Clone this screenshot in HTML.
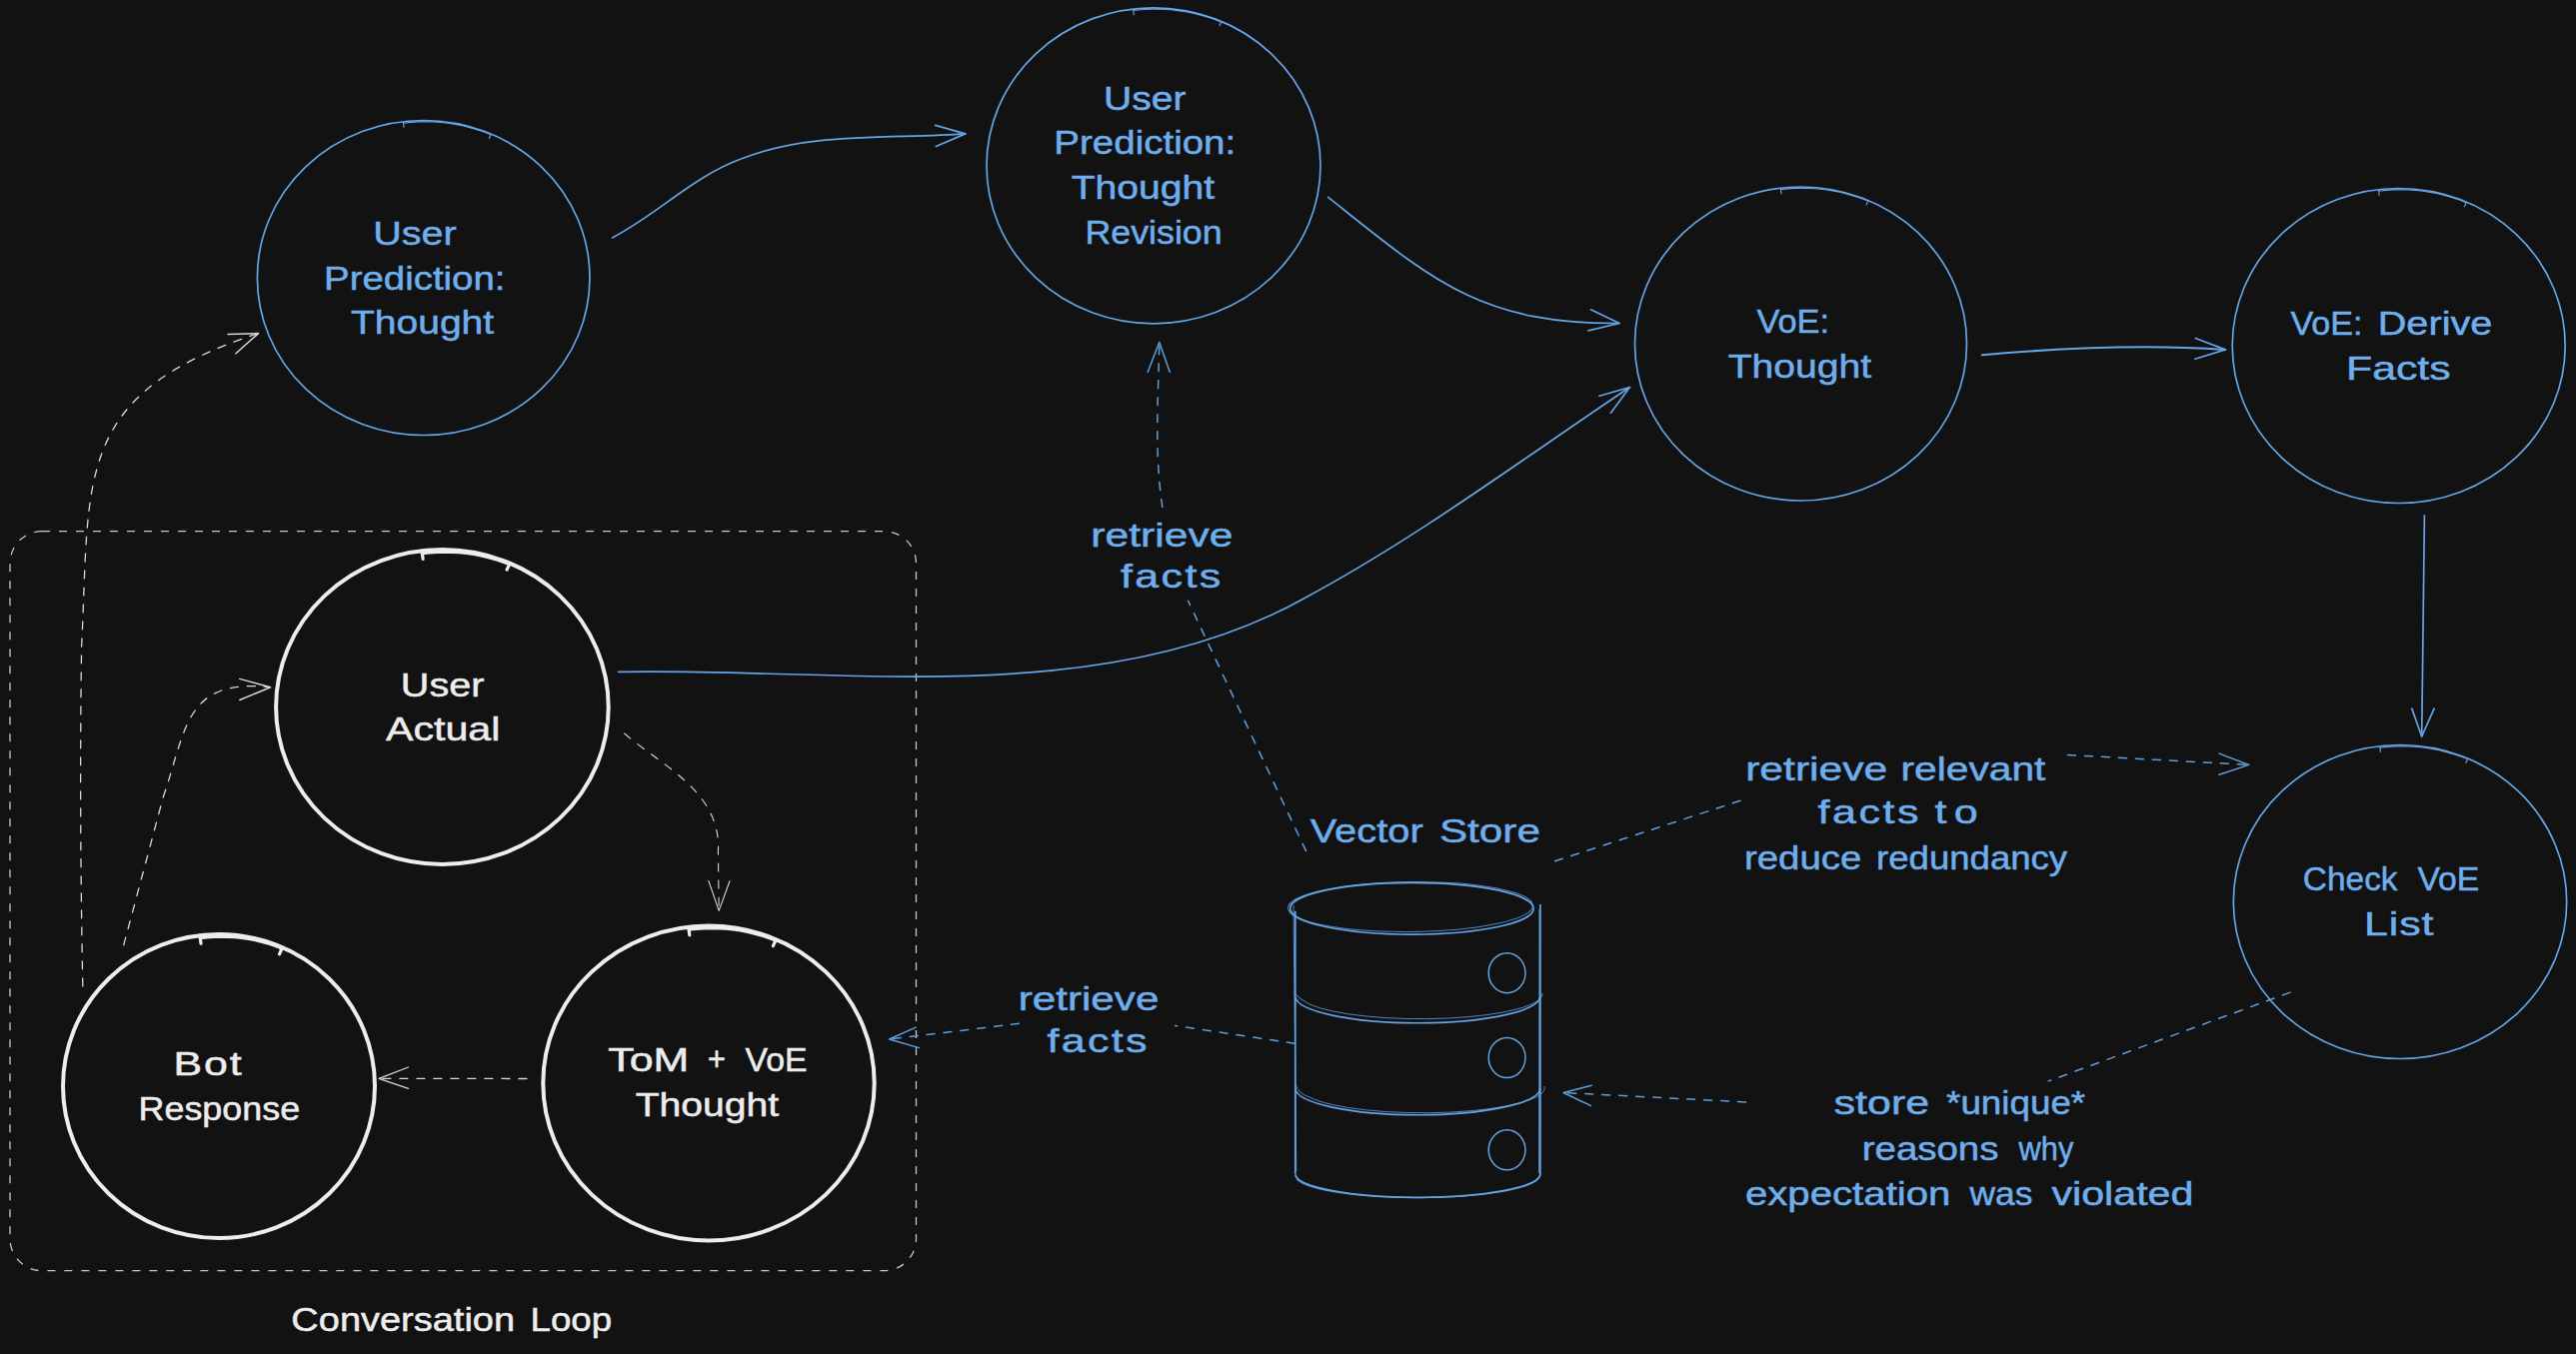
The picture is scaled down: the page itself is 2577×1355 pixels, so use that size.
<!DOCTYPE html>
<html><head><meta charset="utf-8"><style>
html,body{margin:0;padding:0;background:#121212;overflow:hidden;}
svg{display:block;}
text{font-family:"Liberation Sans",sans-serif;}
</style></head><body>
<svg width="2577" height="1355" viewBox="0 0 2577 1355">
<rect width="2577" height="1355" fill="#121212"/>
<ellipse cx="423.7" cy="278" rx="166.3" ry="157.5" stroke="#63a5e6" stroke-width="1.7" fill="none"/>
<path d="M403.6,123.2 L411.0,122.4 L418.4,121.9 L425.9,121.8 L433.3,122.0 L440.7,122.5 L448.1,123.3 L455.5,124.4 L462.8,125.8 L470.0,127.6 L477.1,129.6 L484.2,132.0 L491.1,134.7" stroke="#63a5e6" stroke-width="1.12" fill="none" stroke-linecap="round"/>
<path d="M403.4,121.7 L404.1,127.4" stroke="#63a5e6" stroke-width="1.12" stroke-linecap="round"/>
<path d="M491.3,134.1 L489.4,138.5" stroke="#63a5e6" stroke-width="1.12" stroke-linecap="round"/>
<ellipse cx="1154" cy="165.8" rx="167" ry="158" stroke="#63a5e6" stroke-width="1.7" fill="none"/>
<path d="M1133.8,10.5 L1141.2,9.7 L1148.7,9.2 L1156.2,9.1 L1163.6,9.3 L1171.1,9.8 L1178.5,10.6 L1185.9,11.7 L1193.2,13.1 L1200.5,14.9 L1207.7,17.0 L1214.7,19.3 L1221.7,22.0" stroke="#63a5e6" stroke-width="1.12" fill="none" stroke-linecap="round"/>
<path d="M1133.6,9.0 L1134.3,14.7" stroke="#63a5e6" stroke-width="1.12" stroke-linecap="round"/>
<path d="M1221.9,21.5 L1220.0,25.8" stroke="#63a5e6" stroke-width="1.12" stroke-linecap="round"/>
<ellipse cx="1801.5" cy="344" rx="166" ry="157" stroke="#63a5e6" stroke-width="1.7" fill="none"/>
<path d="M1781.5,189.7 L1788.8,188.9 L1796.2,188.4 L1803.7,188.3 L1811.1,188.5 L1818.5,189.0 L1825.9,189.8 L1833.2,190.9 L1840.5,192.3 L1847.7,194.1 L1854.8,196.1 L1861.9,198.5 L1868.8,201.1" stroke="#63a5e6" stroke-width="1.12" fill="none" stroke-linecap="round"/>
<path d="M1781.3,188.2 L1782.0,193.9" stroke="#63a5e6" stroke-width="1.12" stroke-linecap="round"/>
<path d="M1869.0,200.6 L1867.1,204.9" stroke="#63a5e6" stroke-width="1.12" stroke-linecap="round"/>
<ellipse cx="2399.7" cy="346" rx="166.5" ry="157.5" stroke="#63a5e6" stroke-width="1.7" fill="none"/>
<path d="M2379.6,191.2 L2387.0,190.4 L2394.4,189.9 L2401.9,189.8 L2409.3,190.0 L2416.7,190.5 L2424.2,191.3 L2431.5,192.4 L2438.8,193.8 L2446.1,195.6 L2453.2,197.6 L2460.3,200.0 L2467.2,202.7" stroke="#63a5e6" stroke-width="1.12" fill="none" stroke-linecap="round"/>
<path d="M2379.4,189.7 L2380.1,195.4" stroke="#63a5e6" stroke-width="1.12" stroke-linecap="round"/>
<path d="M2467.4,202.1 L2465.5,206.5" stroke="#63a5e6" stroke-width="1.12" stroke-linecap="round"/>
<ellipse cx="2401" cy="902.5" rx="166.7" ry="157" stroke="#63a5e6" stroke-width="1.7" fill="none"/>
<path d="M2380.9,748.2 L2388.3,747.4 L2395.7,746.9 L2403.2,746.8 L2410.6,747.0 L2418.1,747.5 L2425.5,748.3 L2432.9,749.4 L2440.2,750.8 L2447.4,752.6 L2454.6,754.6 L2461.6,757.0 L2468.6,759.6" stroke="#63a5e6" stroke-width="1.12" fill="none" stroke-linecap="round"/>
<path d="M2380.7,746.7 L2381.4,752.4" stroke="#63a5e6" stroke-width="1.12" stroke-linecap="round"/>
<path d="M2468.8,759.1 L2466.9,763.4" stroke="#63a5e6" stroke-width="1.12" stroke-linecap="round"/>
<ellipse cx="442.4" cy="707.5" rx="166.3" ry="157.5" stroke="#ededed" stroke-width="4" fill="none"/>
<path d="M422.4,553.7 L429.8,552.8 L437.2,552.3 L444.5,552.1 L452.0,552.3 L459.3,552.7 L466.7,553.5 L474.1,554.5 L481.3,555.9 L488.6,557.6 L495.7,559.6 L502.7,561.9 L509.6,564.5" stroke="#ededed" stroke-width="3.20" fill="none" stroke-linecap="round"/>
<path d="M422.1,551.2 L423.1,559.4" stroke="#ededed" stroke-width="3.20" stroke-linecap="round"/>
<path d="M510.0,563.6 L507.1,570.2" stroke="#ededed" stroke-width="3.20" stroke-linecap="round"/>
<ellipse cx="219" cy="1087" rx="156" ry="152" stroke="#ededed" stroke-width="4" fill="none"/>
<path d="M200.3,938.6 L207.2,937.8 L214.1,937.3 L221.0,937.1 L228.0,937.3 L234.9,937.7 L241.8,938.4 L248.7,939.4 L255.5,940.8 L262.3,942.4 L269.0,944.3 L275.6,946.5 L282.0,949.1" stroke="#ededed" stroke-width="3.20" fill="none" stroke-linecap="round"/>
<path d="M200.0,936.1 L201.0,944.3" stroke="#ededed" stroke-width="3.20" stroke-linecap="round"/>
<path d="M282.5,948.1 L279.5,954.8" stroke="#ededed" stroke-width="3.20" stroke-linecap="round"/>
<ellipse cx="709" cy="1084" rx="165.7" ry="157.5" stroke="#ededed" stroke-width="4" fill="none"/>
<path d="M689.1,930.2 L696.4,929.3 L703.8,928.8 L711.1,928.6 L718.5,928.8 L725.9,929.2 L733.2,930.0 L740.5,931.0 L747.8,932.4 L755.0,934.1 L762.1,936.1 L769.1,938.4 L776.0,941.0" stroke="#ededed" stroke-width="3.20" fill="none" stroke-linecap="round"/>
<path d="M688.8,927.7 L689.8,935.9" stroke="#ededed" stroke-width="3.20" stroke-linecap="round"/>
<path d="M776.4,940.1 L773.4,946.7" stroke="#ededed" stroke-width="3.20" stroke-linecap="round"/>
<rect x="10" y="531.7" width="906.5" height="740" rx="32" ry="32" stroke="#c8c8c8" stroke-width="1.3" fill="none" stroke-dasharray="8 9"/>
<path d="M82.8,987.0 Q79.2,809.0 81.6,647.0 C90.3,477.9 72.1,394.4 258.5,333.6" stroke="#d8d8d8" stroke-width="1.3" fill="none" stroke-linecap="round" stroke-dasharray="8 9"/>
<path d="M228.0,334.6 L258.5,333.6 L235.9,353.8" stroke="#d8d8d8" stroke-width="1.5" fill="none" stroke-linecap="round" stroke-linejoin="round"/>
<path d="M123.7,945.9 L163.3,797.5 C187.1,728.4 184.5,678.7 270.5,687.7" stroke="#d8d8d8" stroke-width="1.3" fill="none" stroke-linecap="round" stroke-dasharray="8 9"/>
<path d="M239.8,679.4 L270.5,687.7 L239.8,700.5" stroke="#d8d8d8" stroke-width="1.5" fill="none" stroke-linecap="round" stroke-linejoin="round"/>
<path d="M624.6,734.0 C662.9,767.1 721.5,792.4 718.4,851.5 L719.2,911.4" stroke="#d8d8d8" stroke-width="1.1" fill="none" stroke-linecap="round" stroke-dasharray="8 9"/>
<path d="M708.8,881.4 L719.2,911.4 L730.0,881.8" stroke="#d8d8d8" stroke-width="1.1" fill="none" stroke-linecap="round" stroke-linejoin="round"/>
<path d="M526.9,1079.5 L379.0,1079.3" stroke="#d8d8d8" stroke-width="1.3" fill="none" stroke-linecap="round" stroke-dasharray="8 9"/>
<path d="M408.5,1068.0 L379.0,1079.3 L408.5,1089.4" stroke="#d8d8d8" stroke-width="1.3" fill="none" stroke-linecap="round" stroke-linejoin="round"/>
<path d="M612.5,237.9 C657.4,214.9 693.9,176.0 742.1,158.8 C809.8,131.5 895.2,139.3 965.8,133.9" stroke="#63a5e6" stroke-width="1.7" fill="none" stroke-linecap="round"/>
<path d="M935.6,125.4 L965.8,133.9 L936.3,146.5" stroke="#63a5e6" stroke-width="1.7" fill="none" stroke-linecap="round" stroke-linejoin="round"/>
<path d="M1328.7,197.4 C1432.7,280.3 1480.4,324.5 1620.0,323.5" stroke="#63a5e6" stroke-width="1.7" fill="none" stroke-linecap="round"/>
<path d="M1591.4,309.8 L1620.0,323.5 L1589.0,330.9" stroke="#63a5e6" stroke-width="1.7" fill="none" stroke-linecap="round" stroke-linejoin="round"/>
<path d="M618.6,672.4 C839.1,667.8 1102.3,711.6 1303.4,599.4 C1417.6,538.3 1523.1,459.3 1630.4,387.5" stroke="#63a5e6" stroke-width="1.7" fill="none" stroke-linecap="round"/>
<path d="M1599.9,396.3 L1630.4,387.5 L1611.4,413.3" stroke="#63a5e6" stroke-width="1.7" fill="none" stroke-linecap="round" stroke-linejoin="round"/>
<path d="M1982.8,355.3 Q2119.8,342.8 2226.3,349.9" stroke="#63a5e6" stroke-width="2" fill="none" stroke-linecap="round"/>
<path d="M2196.4,338.5 L2226.3,349.9 L2195.9,359.3" stroke="#63a5e6" stroke-width="1.7" fill="none" stroke-linecap="round" stroke-linejoin="round"/>
<path d="M2425.4,515.8 L2422.7,737.0" stroke="#63a5e6" stroke-width="1.7" fill="none" stroke-linecap="round"/>
<path d="M2412.8,709.1 L2422.7,737.0 L2435.1,709.1" stroke="#63a5e6" stroke-width="1.7" fill="none" stroke-linecap="round" stroke-linejoin="round"/>
<path d="M1306.5,851.6 L1188.6,601.4" stroke="#5d9fdc" stroke-width="1.5" fill="none" stroke-linecap="round" stroke-dasharray="8 9"/>
<path d="M1162.8,507.4 C1154.6,452.6 1158.7,397.4 1159.8,342.4" stroke="#5d9fdc" stroke-width="1.5" fill="none" stroke-linecap="round" stroke-dasharray="8 9"/>
<path d="M1148.2,372.3 L1159.8,342.4 L1170.2,372.3" stroke="#5d9fdc" stroke-width="1.5" fill="none" stroke-linecap="round" stroke-linejoin="round"/>
<path d="M1555.6,861.8 L1742.6,800.8" stroke="#5d9fdc" stroke-width="1.5" fill="none" stroke-linecap="round" stroke-dasharray="8 9"/>
<path d="M2068.5,755.5 L2249.8,765.4" stroke="#5d9fdc" stroke-width="1.5" fill="none" stroke-linecap="round" stroke-dasharray="8 9"/>
<path d="M2220.0,754.1 L2249.8,765.4 L2220.0,775.3" stroke="#5d9fdc" stroke-width="1.5" fill="none" stroke-linecap="round" stroke-linejoin="round"/>
<path d="M2291.0,993.1 L2049.3,1081.9" stroke="#5d9fdc" stroke-width="1.5" fill="none" stroke-linecap="round" stroke-dasharray="8 9"/>
<path d="M1746.5,1102.9 L1564.0,1093.5" stroke="#5d9fdc" stroke-width="1.5" fill="none" stroke-linecap="round" stroke-dasharray="8 9"/>
<path d="M1592.2,1086.3 L1564.0,1093.5 L1591.6,1106.6" stroke="#5d9fdc" stroke-width="1.5" fill="none" stroke-linecap="round" stroke-linejoin="round"/>
<path d="M1295.3,1044.3 L1175.7,1026.4" stroke="#5d9fdc" stroke-width="1.5" fill="none" stroke-linecap="round" stroke-dasharray="8 9"/>
<path d="M1019.4,1024.3 L889.6,1040.0" stroke="#5d9fdc" stroke-width="1.5" fill="none" stroke-linecap="round" stroke-dasharray="8 9"/>
<path d="M916.1,1028.1 L889.6,1040.0 L919.5,1048.6" stroke="#5d9fdc" stroke-width="1.5" fill="none" stroke-linecap="round" stroke-linejoin="round"/>
<ellipse cx="1412.4" cy="909.2" rx="121.8" ry="25.9" stroke="#63a5e6" stroke-width="1.7" fill="none"/>
<path d="M1295.8,911.7 L1295.8,1175.3" stroke="#63a5e6" stroke-width="1.7" fill="none"/>
<path d="M1540.9,905 L1540.9,1176" stroke="#63a5e6" stroke-width="1.7" fill="none"/>
<path d="M1295.8,1175.5 A122.6,23.5 0 0 0 1540.9,1175.5" stroke="#63a5e6" stroke-width="1.7" fill="none"/>
<path d="M1295.8,997.5 A122.6,27 0 0 0 1540.9,997.5" stroke="#63a5e6" stroke-width="1.7" fill="none"/>
<path d="M1295.8,1089.5 A122.6,27 0 0 0 1540.9,1089.5" stroke="#63a5e6" stroke-width="1.7" fill="none"/>
<ellipse cx="1411" cy="907.5" rx="122.5" ry="25" stroke="#63a5e6" stroke-width="1" fill="none" opacity="0.8" transform="rotate(-0.6 1411 907.5)"/>
<path d="M1294,906 L1296.8,1172" stroke="#63a5e6" stroke-width="1" fill="none" opacity="0.8"/>
<path d="M1540,910 L1539.5,1174" stroke="#63a5e6" stroke-width="1" fill="none" opacity="0.8"/>
<path d="M1297,1180 A122,22 0 0 0 1539,1179" stroke="#63a5e6" stroke-width="1" fill="none" opacity="0.8"/>
<path d="M1294,993 Q1300,1000 1310,1005 A122,25 0 0 0 1543,994" stroke="#63a5e6" stroke-width="1" fill="none" opacity="0.8"/>
<path d="M1296,1085 Q1298,1094 1310,1098 A122,25 0 0 0 1545,1087" stroke="#63a5e6" stroke-width="1" fill="none" opacity="0.8"/>
<ellipse cx="1507.6" cy="973.7" rx="18.4" ry="20" stroke="#63a5e6" stroke-width="1.5" fill="none"/>
<ellipse cx="1507.6" cy="1058.5" rx="18.4" ry="20" stroke="#63a5e6" stroke-width="1.5" fill="none"/>
<ellipse cx="1507.6" cy="1150.8" rx="18.4" ry="20" stroke="#63a5e6" stroke-width="1.5" fill="none"/>
<g transform="translate(375.6,245.0) scale(1.1982,1)"><text x="-2.00" y="0" fill="#6eaeec" stroke="#6eaeec" stroke-width="0.5" font-size="33" letter-spacing="0.000">User</text></g>
<g transform="translate(326.4,290.0) scale(1.1638,1)"><text x="-2.00" y="0" fill="#6eaeec" stroke="#6eaeec" stroke-width="0.5" font-size="33" letter-spacing="0.000">Prediction:</text></g>
<g transform="translate(351.0,334.0) scale(1.1826,1)"><text x="0.00" y="0" fill="#6eaeec" stroke="#6eaeec" stroke-width="0.5" font-size="33" letter-spacing="-0.000">Thought</text></g>
<g transform="translate(1106.4,110.0) scale(1.1834,1)"><text x="-2.00" y="0" fill="#6eaeec" stroke="#6eaeec" stroke-width="0.5" font-size="33" letter-spacing="0.000">User</text></g>
<g transform="translate(1056.7,154.0) scale(1.1664,1)"><text x="-2.00" y="0" fill="#6eaeec" stroke="#6eaeec" stroke-width="0.5" font-size="33" letter-spacing="0.000">Prediction:</text></g>
<g transform="translate(1071.7,199.0) scale(1.1851,1)"><text x="0.00" y="0" fill="#6eaeec" stroke="#6eaeec" stroke-width="0.5" font-size="33" letter-spacing="0.000">Thought</text></g>
<g transform="translate(1087.6,244.0) scale(1.0844,1)"><text x="-2.00" y="0" fill="#6eaeec" stroke="#6eaeec" stroke-width="0.5" font-size="33" letter-spacing="0.000">Revision</text></g>
<g transform="translate(1757.5,332.6) scale(1.0407,1)"><text x="0.00" y="0" fill="#6eaeec" stroke="#6eaeec" stroke-width="0.5" font-size="33" letter-spacing="0.000">VoE:</text></g>
<g transform="translate(1728.7,377.7) scale(1.1851,1)"><text x="0.00" y="0" fill="#6eaeec" stroke="#6eaeec" stroke-width="0.5" font-size="33" letter-spacing="0.000">Thought</text></g>
<g transform="translate(2291.4,334.6) scale(1.0333,1)"><text x="0.00" y="0" fill="#6eaeec" stroke="#6eaeec" stroke-width="0.5" font-size="33" letter-spacing="0.000">VoE:</text></g>
<g transform="translate(2381.1,334.6) scale(1.2032,1)"><text x="-2.00" y="0" fill="#6eaeec" stroke="#6eaeec" stroke-width="0.5" font-size="33" letter-spacing="0.000">Derive</text></g>
<g transform="translate(2349.6,380.3) scale(1.2970,1)"><text x="-2.00" y="0" fill="#6eaeec" stroke="#6eaeec" stroke-width="0.5" font-size="33" letter-spacing="0.000">Facts</text></g>
<g transform="translate(2304.8,891.0) scale(1.0136,1)"><text x="-1.00" y="0" fill="#6eaeec" stroke="#6eaeec" stroke-width="0.5" font-size="33" letter-spacing="0.000">Check</text></g>
<g transform="translate(2418.4,891.0) scale(1.0245,1)"><text x="0.00" y="0" fill="#6eaeec" stroke="#6eaeec" stroke-width="0.5" font-size="33" letter-spacing="0.000">VoE</text></g>
<g transform="translate(2367.5,935.8) scale(1.3000,1)"><text x="-2.00" y="0" fill="#6eaeec" stroke="#6eaeec" stroke-width="0.5" font-size="33" letter-spacing="0.708">List</text></g>
<g transform="translate(403.2,697.2) scale(1.1997,1)"><text x="-2.00" y="0" fill="#ededed" stroke="#ededed" stroke-width="0.5" font-size="33" letter-spacing="0.000">User</text></g>
<g transform="translate(386.0,741.0) scale(1.2480,1)"><text x="0.00" y="0" fill="#ededed" stroke="#ededed" stroke-width="0.5" font-size="33" letter-spacing="0.000">Actual</text></g>
<g transform="translate(176.0,1075.9) scale(1.3000,1)"><text x="-2.00" y="0" fill="#ededed" stroke="#ededed" stroke-width="0.5" font-size="33" letter-spacing="1.472">Bot</text></g>
<g transform="translate(140.7,1121.0) scale(1.0878,1)"><text x="-2.00" y="0" fill="#ededed" stroke="#ededed" stroke-width="0.5" font-size="33" letter-spacing="0.000">Response</text></g>
<g transform="translate(608.2,1071.5) scale(1.2999,1)"><text x="0.00" y="0" fill="#ededed" stroke="#ededed" stroke-width="0.5" font-size="33" letter-spacing="0.000">ToM</text></g>
<g transform="translate(708.8,1070.5) scale(0.9294,1)"><text x="-1.00" y="0" fill="#ededed" stroke="#ededed" stroke-width="0.5" font-size="33" letter-spacing="0.000">+</text></g>
<g transform="translate(745.6,1071.5) scale(1.0245,1)"><text x="0.00" y="0" fill="#ededed" stroke="#ededed" stroke-width="0.5" font-size="33" letter-spacing="0.000">VoE</text></g>
<g transform="translate(635.7,1116.6) scale(1.1859,1)"><text x="0.00" y="0" fill="#ededed" stroke="#ededed" stroke-width="0.5" font-size="33" letter-spacing="0.000">Thought</text></g>
<g transform="translate(292.5,1331.9) scale(1.1510,1)"><text x="-1.00" y="0" fill="#ededed" stroke="#ededed" stroke-width="0.5" font-size="33" letter-spacing="0.000">Conversation</text></g>
<g transform="translate(532.8,1331.9) scale(1.1119,1)"><text x="-2.00" y="0" fill="#ededed" stroke="#ededed" stroke-width="0.5" font-size="33" letter-spacing="0.000">Loop</text></g>
<g transform="translate(1093.8,546.5) scale(1.2926,1)"><text x="-2.00" y="0" fill="#6eaeec" stroke="#6eaeec" stroke-width="0.5" font-size="33" letter-spacing="0.000">retrieve</text></g>
<g transform="translate(1120.9,588.0) scale(1.3000,1)"><text x="0.00" y="0" fill="#6eaeec" stroke="#6eaeec" stroke-width="0.5" font-size="33" letter-spacing="1.876">facts</text></g>
<g transform="translate(1310.7,843.3) scale(1.2077,1)"><text x="0.00" y="0" fill="#6eaeec" stroke="#6eaeec" stroke-width="0.5" font-size="33" letter-spacing="-0.000">Vector</text></g>
<g transform="translate(1441.2,843.3) scale(1.2807,1)"><text x="-1.00" y="0" fill="#6eaeec" stroke="#6eaeec" stroke-width="0.5" font-size="33" letter-spacing="0.000">Store</text></g>
<g transform="translate(1748.7,781.0) scale(1.2926,1)"><text x="-2.00" y="0" fill="#6eaeec" stroke="#6eaeec" stroke-width="0.5" font-size="33" letter-spacing="0.000">retrieve</text></g>
<g transform="translate(1904.0,781.0) scale(1.2340,1)"><text x="-2.00" y="0" fill="#6eaeec" stroke="#6eaeec" stroke-width="0.5" font-size="33" letter-spacing="0.000">relevant</text></g>
<g transform="translate(1818.5,823.5) scale(1.3000,1)"><text x="0.00" y="0" fill="#6eaeec" stroke="#6eaeec" stroke-width="0.5" font-size="33" letter-spacing="2.010">facts</text></g>
<g transform="translate(1935.4,823.5) scale(1.3000,1)"><text x="0.00" y="0" fill="#6eaeec" stroke="#6eaeec" stroke-width="0.5" font-size="33" letter-spacing="5.755">to</text></g>
<g transform="translate(1747.3,870.3) scale(1.1635,1)"><text x="-2.00" y="0" fill="#6eaeec" stroke="#6eaeec" stroke-width="0.5" font-size="33" letter-spacing="0.000">reduce</text></g>
<g transform="translate(1879.3,870.3) scale(1.1079,1)"><text x="-2.00" y="0" fill="#6eaeec" stroke="#6eaeec" stroke-width="0.5" font-size="33" letter-spacing="0.000">redundancy</text></g>
<g transform="translate(1834.6,1115.4) scale(1.3000,1)"><text x="0.00" y="0" fill="#6eaeec" stroke="#6eaeec" stroke-width="0.5" font-size="33" letter-spacing="0.036">store</text></g>
<g transform="translate(1947.1,1115.4) scale(1.1149,1)"><text x="0.00" y="0" fill="#6eaeec" stroke="#6eaeec" stroke-width="0.5" font-size="33" letter-spacing="0.000">*unique*</text></g>
<g transform="translate(1865.0,1160.5) scale(1.1653,1)"><text x="-2.00" y="0" fill="#6eaeec" stroke="#6eaeec" stroke-width="0.5" font-size="33" letter-spacing="0.000">reasons</text></g>
<g transform="translate(2018.6,1160.5) scale(0.9338,1)"><text x="1.00" y="0" fill="#6eaeec" stroke="#6eaeec" stroke-width="0.5" font-size="33" letter-spacing="0.000">why</text></g>
<g transform="translate(1747.1,1205.6) scale(1.2179,1)"><text x="-1.00" y="0" fill="#6eaeec" stroke="#6eaeec" stroke-width="0.5" font-size="33" letter-spacing="0.000">expectation</text></g>
<g transform="translate(1969.5,1205.6) scale(1.0712,1)"><text x="1.00" y="0" fill="#6eaeec" stroke="#6eaeec" stroke-width="0.5" font-size="33" letter-spacing="0.000">was</text></g>
<g transform="translate(2052.5,1205.6) scale(1.2474,1)"><text x="0.00" y="0" fill="#6eaeec" stroke="#6eaeec" stroke-width="0.5" font-size="33" letter-spacing="0.000">violated</text></g>
<g transform="translate(1021.2,1011.0) scale(1.2804,1)"><text x="-2.00" y="0" fill="#6eaeec" stroke="#6eaeec" stroke-width="0.5" font-size="33" letter-spacing="0.000">retrieve</text></g>
<g transform="translate(1047.6,1052.8) scale(1.3000,1)"><text x="0.00" y="0" fill="#6eaeec" stroke="#6eaeec" stroke-width="0.5" font-size="33" letter-spacing="1.760">facts</text></g>
</svg>
</body></html>
